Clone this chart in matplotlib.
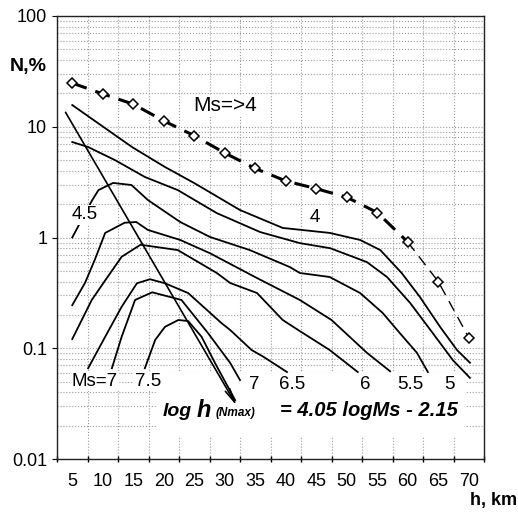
import matplotlib.pyplot as plt
from matplotlib.ticker import FixedLocator, LogLocator, NullFormatter
from matplotlib.patches import Rectangle

plt.rcParams['font.family'] = ['Liberation Sans', 'DejaVu Sans']

# all events, Ms=>4 (diamonds)
total_h = [5, 10, 15, 20, 25, 30, 35, 40, 45, 50, 55, 60, 65, 70]
total_n = [24.8, 19.8, 16.0, 11.3, 8.3, 5.8, 4.2, 3.24, 2.76, 2.31, 1.68, 0.91, 0.40, 0.125]

# curves by magnitude
ms4_h = [5, 9.2, 14.8, 20.2, 25, 32.5, 39.5, 47.2, 52.2, 55.5, 59, 62, 65.3, 68.1, 70.2]
ms4_n = [15.7, 10.8, 6.56, 4.33, 3.1, 1.77, 1.22, 1.10, 0.95, 0.77, 0.478, 0.29, 0.156, 0.096, 0.074]

ms45_h = [5, 7.6, 12, 16.9, 22.3, 28.7, 35.8, 42.3, 47.3, 53.3, 56.6, 60.4, 64.1, 67.4, 70.2]
ms45_n = [7.28, 6.56, 5.0, 3.52, 2.68, 1.66, 1.12, 0.89, 0.80, 0.60, 0.44, 0.256, 0.137, 0.078, 0.054]

ms5_h = [5, 8.2, 9.3, 11.7, 14.7, 17.4, 22.7, 27.6, 34.1, 40.7, 42.3, 47.2, 52.2, 55.9, 58.7, 61.5, 63.3]
ms5_n = [1.0, 2.14, 2.68, 3.11, 2.98, 2.18, 1.38, 1.01, 0.77, 0.54, 0.478, 0.44, 0.315, 0.208, 0.137, 0.091, 0.061]

ms55_h = [5, 7.1, 8.7, 10.4, 13.6, 15.5, 17.4, 22.7, 27.6, 35.3, 42.3, 47.5, 53.3, 57.1]
ms55_n = [0.245, 0.39, 0.63, 1.10, 1.36, 1.38, 1.17, 0.95, 0.72, 0.43, 0.273, 0.18, 0.091, 0.062]

ms6_h = [5, 8.2, 10.4, 13.1, 16.2, 22.3, 28.7, 30.9, 35.3, 39.5, 42.3, 47.2, 51.8]
ms6_n = [0.121, 0.273, 0.41, 0.67, 0.86, 0.77, 0.478, 0.388, 0.315, 0.18, 0.143, 0.0964, 0.061]

ms65_h = [7.6, 10.4, 13.1, 15.6, 17.75, 20.2, 24, 29.5, 30.9, 34.4, 36.3, 40.2]
ms65_n = [0.066, 0.127, 0.237, 0.386, 0.42, 0.386, 0.315, 0.168, 0.146, 0.0964, 0.084, 0.061]

ms7_h = [11.5, 13.1, 15.3, 18.1, 22.9, 27.3, 30.9, 32.5]
ms7_n = [0.066, 0.127, 0.273, 0.32, 0.273, 0.136, 0.0736, 0.0516]

ms75_h = [16.9, 18.6, 20.2, 22.4, 24, 26.2, 28.4, 31.7]
ms75_n = [0.066, 0.119, 0.156, 0.18, 0.176, 0.127, 0.0736, 0.034]

# log h(Nmax) line
nmax_h = [3.9, 32.0]
nmax_n = [13.5, 0.030]

y_ticks = [0.01, 0.1, 1, 10, 100]
y_labels = ['0.01', '0.1', '1', '10', '100']

W, H = 518, 512
fig = plt.figure(figsize=(W / 100, H / 100), dpi=100)
ax = fig.add_axes([57 / W, 1 - 459 / H, (484 - 57) / W, (459 - 16) / H])

ax.set_yscale('log')
ax.set_ylim(0.01, 100)
ax.set_xlim(2.5, 72.5)

# dashed total curve, thinner at the tail
ax.plot(total_h[:12], total_n[:12], color='black', lw=2.2, ls=(0, (5, 3)), zorder=2)
ax.plot(total_h[11:], total_n[11:], color='black', lw=1.0, ls=(0, (8, 5)), zorder=2)
ax.plot(total_h, total_n, ls='none', marker='D', ms=5, mfc='white', mec='black', mew=1.1, zorder=3)

for hh, nn in [(ms4_h, ms4_n), (ms45_h, ms45_n), (ms5_h, ms5_n), (ms55_h, ms55_n),
               (ms6_h, ms6_n), (ms65_h, ms65_n), (ms7_h, ms7_n), (ms75_h, ms75_n)]:
    ax.plot(hh, nn, color='black', lw=1.3, zorder=2, solid_joinstyle='round')

ax.annotate('', xy=(nmax_h[1], nmax_n[1]), xytext=(nmax_h[0], nmax_n[0]),
            arrowprops=dict(arrowstyle='->,head_length=1.0,head_width=0.18', lw=1.2,
                            color='black', shrinkA=0, shrinkB=0), zorder=2)

# axes / ticks
ax.set_xticks(total_h)
ax.set_xticklabels([str(v) for v in total_h], fontsize=13)
ax.xaxis.set_minor_locator(FixedLocator([2.5 + 5 * i for i in range(15)]))
ax.tick_params(axis='x', which='major', length=0, pad=10)
ax.tick_params(axis='x', which='minor', length=4.3, direction='inout', width=1)

ax.yaxis.set_major_locator(FixedLocator(y_ticks))
ax.set_yticklabels(y_labels, fontsize=13)
ax.yaxis.set_minor_locator(LogLocator(base=10, subs=range(2, 10)))
ax.yaxis.set_minor_formatter(NullFormatter())
ax.tick_params(axis='y', which='major', length=3.6, direction='out', pad=3.5)
ax.tick_params(axis='y', which='minor', length=0)

ax.set_axisbelow(True)
ax.grid(which='both', axis='y', ls=':', color='#9a9a9a', lw=0.8)
ax.grid(which='minor', axis='x', ls=':', color='#9a9a9a', lw=0.8)
for s in ax.spines.values():
    s.set_linewidth(1.0)
    s.set_color('#222222')

box = dict(facecolor='white', edgecolor='none', pad=1)
ax.text(30.0, 15.4, 'Ms=>4', fontsize=15, ha='center', va='center', bbox=box, zorder=4)
ax.text(44.8, 1.53, '4', fontsize=13.5, ha='center', va='center', bbox=box, zorder=4)
ax.text(7.1, 1.6, '4.5', fontsize=13.5, ha='center', va='center', bbox=box, zorder=4)
ax.text(8.7, 0.0506, 'Ms=7', fontsize=13.5, ha='center', va='center', bbox=box, zorder=4)
ax.text(17.4, 0.0506, '7.5', fontsize=13.5, ha='center', va='center', bbox=box, zorder=4)
for lab, hx in [('7', 34.8), ('6.5', 41.0), ('6', 53.0), ('5.5', 60.5), ('5', 66.9)]:
    ax.text(hx, 0.0475, lab, fontsize=13.5, ha='center', va='center', bbox=box, zorder=4)

# white area behind the equation (hides grid only)
ax.add_patch(Rectangle((157 / W, 1 - 436 / H), (466 - 157) / W, (436 - 373) / H,
                       transform=fig.transFigure, facecolor='white', edgecolor='none', zorder=1))
eq = dict(transform=fig.transFigure, fontweight='bold', fontstyle='italic', va='baseline', zorder=4)
ax.text(163 / W, 1 - 416 / H, 'log', fontsize=14, **eq)
ax.text(197 / W, 1 - 417 / H, 'h', fontsize=17, **eq)
ax.text(216 / W, 1 - 416 / H, '(Nmax)', fontsize=8.5, **eq)
ax.text(280 / W, 1 - 416 / H, '= 4.05 logMs - 2.15', fontsize=14.5, **eq)

fig.text(28 / W, 1 - 66 / H, 'N,%', fontsize=14, fontweight='bold', ha='center', va='center')
fig.text(494 / W, 1 - 501 / H, 'h, km', fontsize=13, fontweight='bold', ha='center', va='center')

fig.savefig('out.png', dpi=100)
